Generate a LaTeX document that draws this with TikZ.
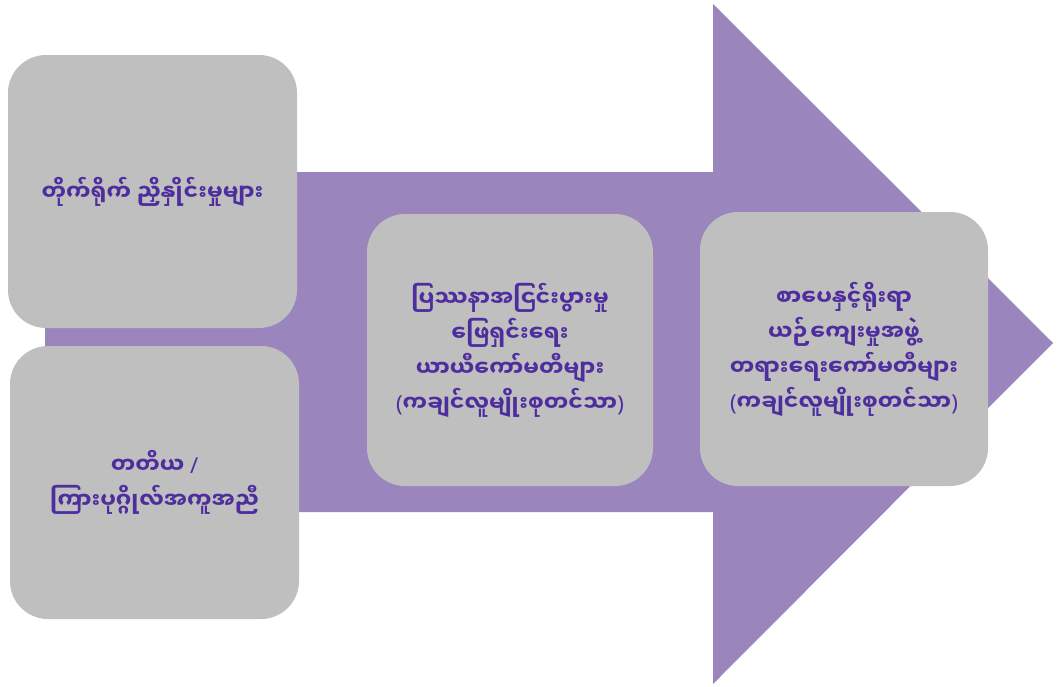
\documentclass[tikz,border=0pt]{standalone}
\usepackage{fontspec}
\newfontfamily\mmfont[Script=Myanmar]{Noto Sans Myanmar UI}
\newfontfamily\latfont{Noto Sans}
\newcommand{\mylp}{{\latfont (}}
\newcommand{\myrp}{{\latfont )}}
\newcommand{\myslash}{{\latfont /}}
\definecolor{arrowpurple}{RGB}{155,133,189}
\definecolor{boxgray}{RGB}{191,191,191}
\definecolor{textpurple}{RGB}{78,46,158}
\begin{document}
\begin{tikzpicture}[x=1pt,y=-1pt,
  box/.style={fill=boxgray, rounded corners=38pt, align=center, text=textpurple,
    font=\mmfont\bfseries\fontsize{22}{35}\selectfont, inner sep=0pt}]
\useasboundingbox (0,0) rectangle (1057,686);
\fill[arrowpurple] (45,172) -- (713,172) -- (713,4) -- (1053,343) -- (713,684) -- (713,512) -- (45,512) -- cycle;
\node[box, minimum width=289pt, minimum height=273pt] (b1) at (152.5,191.5) {တိုက်ရိုက် ညှိနှိုင်းမှုများ};
\node[box, minimum width=289pt, minimum height=273pt] (b2) at (154.5,482.5) {တတိယ \myslash\\ကြားပုဂ္ဂိုလ်အကူအညီ};
\node[box, minimum width=286pt, minimum height=272pt] (b3) at (510,350) {ပြဿနာအငြင်းပွားမှု\\ဖြေရှင်းရေး\\ယာယီကော်မတီများ\\\mylp ကချင်လူမျိုးစုတင်သာ\myrp};
\node[box, minimum width=288pt, minimum height=274pt] (b4) at (844,349) {စာပေနှင့်ရိုးရာ\\ယဉ်ကျေးမှုအဖွဲ့\\တရားရေးကော်မတီများ\\\mylp ကချင်လူမျိုးစုတင်သာ\myrp};
\end{tikzpicture}
\end{document}
